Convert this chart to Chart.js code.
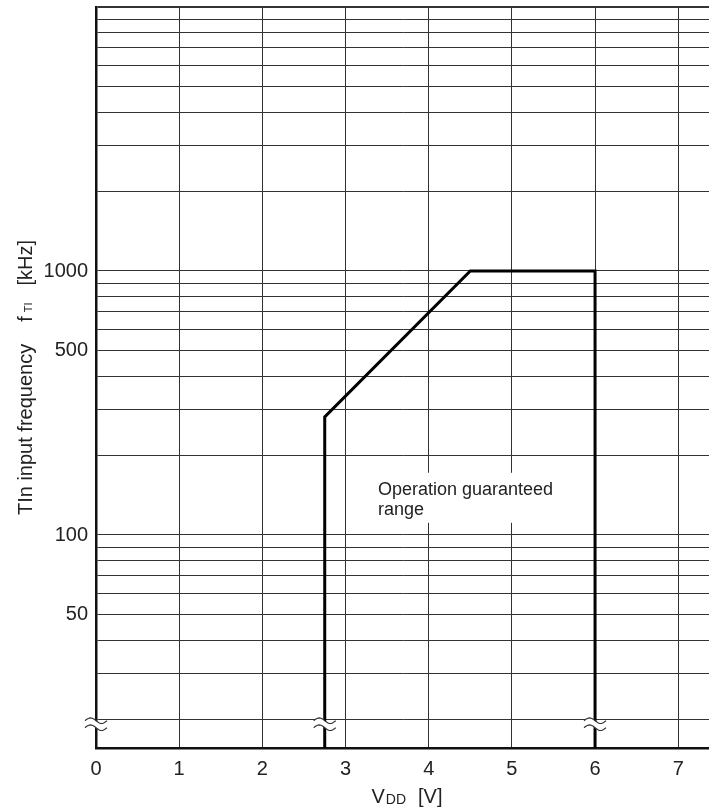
<!DOCTYPE html>
<html>
<head>
<meta charset="utf-8">
<script src="https://cdn.jsdelivr.net/npm/chart.js@4/dist/chart.umd.min.js"></script>
<style>
  html, body { margin: 0; padding: 0; background: #fff; }
  #wrap { width: 709px; height: 812px; position: relative; }
</style>
</head>
<body>
<div id="wrap"><canvas id="chart"></canvas></div>
<script>
// axis values
const vddTicks = [0, 1, 2, 3, 4, 5, 6, 7];
const freqGrid = [20, 30, 40, 50, 60, 70, 80, 90,
                  100, 200, 300, 400, 500, 600, 700, 800, 900,
                  1000, 2000, 3000, 4000, 5000, 6000, 7000, 8000, 9000, 10000];
const freqLabels = [50, 100, 500, 1000];
const vddMin = 0, vddMax = 7.37;
const freqMin = 15.6, freqMax = 10000;

// operation guaranteed boundary
const boundaryVdd = [2.75, 2.75, 4.5, 6, 6];
const boundaryFreq = [15.6, 280, 1000, 1000, 15.6];

// axis break marks
const breakVdd = [0, 2.75, 6];
const breakFreq = 19.2;

// label
const noteLines = ['Operation guaranteed', 'range'];
const noteVdd = 3.39, noteFreq = 142;

const FONT = '"Liberation Sans", Arial, Helvetica, sans-serif';
const ink = '#222';

function drawBreak(ctx, cx, cy) {
  const w = 11, a = 2.8, gap = 7;
  const wave = yOff => {
    const pts = [];
    for (let i = 0; i <= 20; i++) {
      const t = i / 20;
      pts.push([cx - w + 2 * w * t, cy + yOff - a * Math.sin(t * 2 * Math.PI)]);
    }
    return pts;
  };
  const up = wave(-gap / 2), dn = wave(gap / 2);
  ctx.save();
  ctx.beginPath();
  up.forEach((p, i) => i ? ctx.lineTo(p[0], p[1]) : ctx.moveTo(p[0], p[1]));
  dn.slice().reverse().forEach(p => ctx.lineTo(p[0], p[1]));
  ctx.closePath();
  ctx.fillStyle = '#fff';
  ctx.fill();
  ctx.strokeStyle = '#333';
  ctx.lineWidth = 1.2;
  [up, dn].forEach(pts => {
    ctx.beginPath();
    pts.forEach((p, i) => i ? ctx.lineTo(p[0], p[1]) : ctx.moveTo(p[0], p[1]));
    ctx.stroke();
  });
  ctx.restore();
}

// text runs: {t, size, dy, gap} drawn centred on x
function drawRuns(ctx, runs, x, y) {
  let total = 0;
  runs.forEach(r => {
    ctx.font = r.size + 'px ' + FONT;
    r.w = ctx.measureText(r.t).width + (r.gap || 0);
    total += r.w;
  });
  let cx = x - total / 2;
  runs.forEach(r => {
    ctx.font = r.size + 'px ' + FONT;
    ctx.fillText(r.t, cx, y + (r.dy || 0));
    cx += r.w;
  });
}

const extras = {
  id: 'extras',
  beforeDatasetsDraw(chart) {
    const { ctx, scales: { x, y } } = chart;
    const tx = x.getPixelForValue(noteVdd);
    const ty = y.getPixelForValue(noteFreq);
    ctx.save();
    ctx.fillStyle = '#fff';
    ctx.fillRect(tx - 6, ty - 22, 193, 50);
    ctx.fillStyle = ink;
    ctx.font = '18px ' + FONT;
    ctx.textBaseline = 'alphabetic';
    noteLines.forEach((s, i) => ctx.fillText(s, tx, ty + i * 20));
    ctx.restore();
  },
  afterDatasetsDraw(chart) {
    const { ctx, scales: { x, y } } = chart;
    breakVdd.forEach(v => drawBreak(ctx, x.getPixelForValue(v), y.getPixelForValue(breakFreq)));
  },
  afterDraw(chart) {
    const { ctx, chartArea } = chart;
    ctx.save();
    ctx.fillStyle = ink;
    ctx.textBaseline = 'alphabetic';
    // x title
    drawRuns(ctx, [
      { t: 'V', size: 20, gap: 1 },
      { t: 'DD', size: 14, dy: 1, gap: 12 },
      { t: '[V]', size: 20 }
    ], 407, 803);
    // y title
    ctx.translate(32, (chartArea.top + chartArea.bottom) / 2);
    ctx.rotate(-Math.PI / 2);
    drawRuns(ctx, [
      { t: 'TIn input frequency', size: 20, gap: 22 },
      { t: 'f', size: 20, gap: 4 },
      { t: 'TI', size: 11, gap: 17 },
      { t: '[kHz]', size: 20 }
    ], 0, 0);
    ctx.restore();
  }
};

new Chart(document.getElementById('chart'), {
  type: 'line',
  data: {
    datasets: [{
      data: boundaryVdd.map((v, i) => ({ x: v, y: boundaryFreq[i] })),
      borderColor: '#000',
      borderWidth: 3,
      pointRadius: 0,
      tension: 0,
      fill: false
    }]
  },
  options: {
    responsive: true,
    maintainAspectRatio: false,
    animation: false,
    layout: { padding: { top: 7, right: 0, left: 0, bottom: 0 } },
    plugins: { legend: { display: false }, tooltip: { enabled: false } },
    scales: {
      x: {
        type: 'linear',
        min: vddMin,
        max: vddMax,
        afterBuildTicks: s => { s.ticks = vddTicks.map(v => ({ value: v })); },
        afterFit: s => { s.height = 64; s.paddingLeft = 0; s.paddingRight = 0; },
        ticks: { font: { size: 20, family: FONT }, color: ink, padding: 9, autoSkip: false, maxRotation: 0 },
        grid: { color: '#333', lineWidth: 1, drawTicks: false },
        border: { color: '#111', width: 2.5 }
      },
      y: {
        type: 'logarithmic',
        min: freqMin,
        max: freqMax,
        afterBuildTicks: s => { s.ticks = freqGrid.map(v => ({ value: v })); },
        afterFit: s => { s.width = 96; s.paddingTop = 0; s.paddingBottom = 0; },
        ticks: {
          font: { size: 20, family: FONT },
          color: ink,
          padding: 8,
          autoSkip: false,
          callback: v => freqLabels.includes(v) ? String(v) : ''
        },
        grid: {
          color: '#333',
          lineWidth: c => c.tick && c.tick.value === freqMax ? 2 : 1,
          drawTicks: false
        },
        border: { color: '#111', width: 2.5 }
      }
    }
  },
  plugins: [extras]
});
</script>
</body>
</html>
